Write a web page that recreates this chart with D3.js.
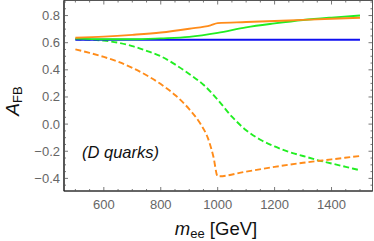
<!DOCTYPE html>
<html>
<head>
  <meta charset="UTF-8">
  <style>
    body {
      margin: 0;
      background-color: #ffffff;
      font-family: "Liberation Sans", Arial, sans-serif;
    }
    svg { display: block; }
  </style>
</head>
<body>

<svg id="chart" width="374" height="241"></svg>

<script src="https://d3js.org/d3.v7.min.js"></script>

<script>
// values
let xTicks = [600, 800, 1000, 1200, 1400];
let yTicks = [-0.4, -0.2, 0.0, 0.2, 0.4, 0.6, 0.8];

let blueMass = [500, 1500];
let blueSolid = [0.622, 0.622];

let orangeSolidMass = [500, 600, 700, 800, 900, 975, 1000, 1100, 1200, 1300, 1400, 1500];
let orangeSolid = [0.637, 0.645, 0.658, 0.675, 0.703, 0.728, 0.744, 0.752, 0.760, 0.768, 0.776, 0.784];

let greenSolidMass = [500, 600, 700, 800, 900, 1000, 1100, 1200, 1300, 1400, 1500];
let greenSolid = [0.630, 0.625, 0.625, 0.632, 0.643, 0.672, 0.713, 0.742, 0.767, 0.785, 0.800];

let greenDashMass = [500, 550, 600, 650, 700, 750, 800, 850, 900, 950, 1000, 1050, 1100, 1150, 1200, 1250, 1300, 1350, 1400, 1450, 1500];
let greenDash = [0.625, 0.622, 0.615, 0.600, 0.575, 0.540, 0.500, 0.440, 0.370, 0.290, 0.180, 0.055, -0.045, -0.115, -0.165, -0.205, -0.235, -0.265, -0.290, -0.315, -0.340];

let orangeDashMass = [500, 550, 600, 650, 700, 750, 800, 850, 900, 940, 965, 985, 1000, 1100, 1200, 1300, 1400, 1500];
let orangeDash = [0.551, 0.525, 0.495, 0.460, 0.415, 0.360, 0.295, 0.215, 0.110, 0.000, -0.100, -0.240, -0.385, -0.350, -0.315, -0.285, -0.260, -0.235];

let width = 374, height = 241;
let plotLeft = 64, plotRight = 372.5, plotTop = 0.5, plotBottom = 191;

let svg = d3.select("#chart");

let x = d3.scaleLinear().domain([460, 1544]).range([plotLeft, plotRight]);
let y = d3.scaleLinear().domain([-0.493, 0.911]).range([plotBottom, plotTop]);

// frame
svg.append("rect")
    .attr("x", plotLeft).attr("y", plotTop)
    .attr("width", plotRight - plotLeft).attr("height", plotBottom - plotTop)
    .attr("fill", "none")
    .attr("stroke", "#555")
    .attr("stroke-width", 1);

svg.append("line")
    .attr("x1", plotLeft).attr("x2", plotLeft).attr("y1", plotTop).attr("y2", plotBottom)
    .attr("stroke", "#222").attr("stroke-width", 1.2);
svg.append("line")
    .attr("x1", plotLeft).attr("x2", plotRight).attr("y1", plotBottom).attr("y2", plotBottom)
    .attr("stroke", "#222").attr("stroke-width", 1.2);

// ticks (pointing inward on all four sides)
let xMinor = d3.range(500, 1501, 50).filter(v => !xTicks.includes(v));
let yMinor = d3.range(-0.45, 0.91, 0.05).map(v => Math.round(v * 100) / 100)
    .filter(v => !yTicks.some(t => Math.abs(t - v) < 1e-6));

let tickG = svg.append("g").attr("stroke", "#555").attr("stroke-width", 0.8);

function xTick(v, len) {
  tickG.append("line").attr("x1", x(v)).attr("x2", x(v)).attr("y1", plotBottom).attr("y2", plotBottom - len);
  tickG.append("line").attr("x1", x(v)).attr("x2", x(v)).attr("y1", plotTop).attr("y2", plotTop + len);
}
function yTick(v, len) {
  tickG.append("line").attr("x1", plotLeft).attr("x2", plotLeft + len).attr("y1", y(v)).attr("y2", y(v));
  tickG.append("line").attr("x1", plotRight).attr("x2", plotRight - len).attr("y1", y(v)).attr("y2", y(v));
}
xTicks.forEach(v => xTick(v, 4));
xMinor.forEach(v => xTick(v, 2));
yTicks.forEach(v => yTick(v, 4));
yMinor.forEach(v => yTick(v, 2));

// tick labels
svg.append("g").selectAll("text")
    .data(xTicks)
    .enter()
    .append("text")
    .attr("x", d => x(d))
    .attr("y", 209)
    .attr("text-anchor", "middle")
    .attr("font-size", 13)
    .attr("fill", "#666")
    .text(d => d);

svg.append("g").selectAll("text")
    .data(yTicks)
    .enter()
    .append("text")
    .attr("x", 60)
    .attr("y", d => y(d) + 4.5)
    .attr("text-anchor", "end")
    .attr("font-size", 13)
    .attr("fill", "#666")
    .text(d => d3.format(".1f")(d));

// curves
svg.append("clipPath").attr("id", "plotclip")
    .append("rect").attr("x", plotLeft).attr("y", plotTop)
    .attr("width", plotRight - plotLeft).attr("height", plotBottom - plotTop);

let line = d3.line()
    .x(d => x(d[0]))
    .y(d => y(d[1]))
    .curve(d3.curveMonotoneX);

let series = [
  {m: greenDashMass, v: greenDash, color: "#22ee22", dash: "6,3"},
  {m: orangeDashMass, v: orangeDash, color: "#ff8c1a", dash: "6,3"},
  {m: blueMass, v: blueSolid, color: "#1010f0", dash: null},
  {m: greenSolidMass, v: greenSolid, color: "#22ee22", dash: null},
  {m: orangeSolidMass, v: orangeSolid, color: "#ff8c1a", dash: null}
];

let plot = svg.append("g").attr("clip-path", "url(#plotclip)");
series.forEach(s => {
  plot.append("path")
      .attr("d", line(s.m.map((m, i) => [m, s.v[i]])))
      .attr("fill", "none")
      .attr("stroke", s.color)
      .attr("stroke-width", 1.9)
      .attr("stroke-dasharray", s.dash);
});

// annotation
svg.append("text")
    .attr("x", 82)
    .attr("y", 158)
    .attr("font-size", 16.5)
    .attr("font-style", "italic")
    .attr("fill", "#111")
    .text("(D quarks)");

// axis labels
let xl = svg.append("text")
    .attr("x", 216)
    .attr("y", 235)
    .attr("text-anchor", "middle")
    .attr("font-size", 18.5)
    .attr("fill", "#111");
xl.append("tspan").attr("font-style", "italic").text("m");
xl.append("tspan").attr("font-size", 13).attr("dy", 3).text("ee");
xl.append("tspan").attr("dy", -3).text(" [GeV]");

let yl = svg.append("text")
    .attr("transform", "translate(19,101) rotate(-90)")
    .attr("text-anchor", "middle")
    .attr("font-size", 19)
    .attr("fill", "#111");
yl.append("tspan").attr("font-style", "italic").text("A");
yl.append("tspan").attr("font-size", 13).attr("dy", 3).text("FB");
</script>

</body>
</html>
